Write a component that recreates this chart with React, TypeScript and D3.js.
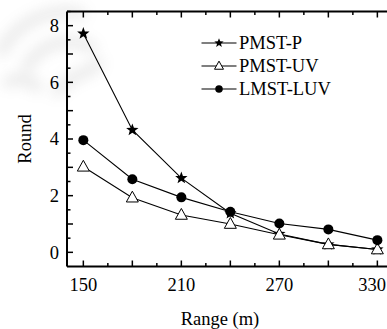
import React from "react";
import * as d3 from "d3";

const ranges = [150, 180, 210, 240, 270, 300, 330];
const pmstP = [7.72, 4.32, 2.62, 1.38, 0.65, 0.28, 0.1];
const pmstUV = [3.02, 1.93, 1.32, 1.0, 0.62, 0.28, 0.1];
const lmstLUV = [3.96, 2.58, 1.94, 1.43, 1.02, 0.81, 0.43];
const seriesNames = ["PMST-P", "PMST-UV", "LMST-LUV"];
const xTickLabels = [150, 210, 270, 330];
const yTickLabels = [0, 2, 4, 6, 8];

const W = 387, H = 329;
const FONT = "'Liberation Serif', 'Times New Roman', serif";

function starPath(cx: number, cy: number, R: number) {
  const r = R * 0.42;
  const pts: [number, number][] = [];
  for (let i = 0; i < 10; i++) {
    const a = -Math.PI / 2 + (i * Math.PI) / 5;
    const rr = i % 2 === 0 ? R : r;
    pts.push([cx + rr * Math.cos(a), cy + rr * Math.sin(a)]);
  }
  return d3.line()(pts) + "Z";
}
function triPath(cx: number, cy: number, s: number) {
  const h = s * 0.9;
  return `M${cx},${cy - h * 0.6}L${cx + s / 2},${cy + h * 0.4}L${cx - s / 2},${cy + h * 0.4}Z`;
}

function Marker({ kind, x, y, scale = 1 }: { kind: number; x: number; y: number; scale?: number }) {
  if (kind === 0) return <path d={starPath(x, y, 6.5 * scale)} fill="#000" />;
  if (kind === 1) return <path d={triPath(x, y, 12 * scale)} fill="#fff" stroke="#000" strokeWidth={1} />;
  return <circle cx={x} cy={y} r={5 * scale} fill="#000" />;
}

export default function App() {
  const x = d3.scaleLinear().domain([140, 340]).range([67, 393.7]);
  const y = d3.scaleLinear().domain([-0.5, 8.5]).range([266.5, 11.5]);
  const series = [pmstP, pmstUV, lmstLUV];
  const line = d3.line<number>().x((_, i) => x(ranges[i])).y((d) => y(d));
  const xMinor = d3.range(150, 340, 15);
  const yMinor = d3.range(0, 8.51, 0.5);
  const left = x.range()[0], right = x.range()[1];
  const top = y.range()[1], bottom = y.range()[0];

  return (
    <svg width={W} height={H} style={{ position: "absolute", left: 0, top: 0, background: "#fff", fontFamily: FONT }}>
      <defs>
        <filter id="blur" x="-50%" y="-50%" width="200%" height="200%">
          <feGaussianBlur stdDeviation="7" />
        </filter>
      </defs>
      <g filter="url(#blur)" opacity={0.22} fill="none" stroke="#888" strokeWidth={9}>
        <path d="M0,55 C15,20 55,5 85,15" />
        <path d="M25,70 C40,40 75,35 95,50" />
        <path d="M55,95 C70,70 95,75 100,60" />
        <path d="M5,85 C15,75 30,78 40,90" />
      </g>
      {/* lines */}
      {series.map((s, k) => (
        <path key={k} d={line(s) || ""} fill="none" stroke="#000" strokeWidth={1.1} />
      ))}
      {/* markers */}
      {series.map((s, k) =>
        s.map((v, i) => <Marker key={`${k}-${i}`} kind={k} x={x(ranges[i])} y={y(v)} />)
      )}
      {/* frame */}
      <line x1={left} x2={right} y1={bottom} y2={bottom} stroke="#000" strokeWidth={2} />
      <line x1={left} x2={right} y1={top} y2={top} stroke="#000" strokeWidth={2} />
      <line x1={left} x2={left} y1={top} y2={bottom} stroke="#000" strokeWidth={2} />
      {/* x ticks */}
      {xMinor.map((t) => {
        const major = (t - 150) % 30 === 0;
        const len = major ? 6 : 3.5;
        return (
          <g key={`xt${t}`}>
            <line x1={x(t)} x2={x(t)} y1={bottom} y2={bottom - len} stroke="#000" strokeWidth={1.5} />
            <line x1={x(t)} x2={x(t)} y1={top} y2={top + len} stroke="#000" strokeWidth={1.5} />
          </g>
        );
      })}
      {yMinor.map((t) => {
        const major = Math.abs(t - Math.round(t)) < 1e-6;
        const len = major ? 6 : 3.5;
        return <line key={`yt${t}`} x1={left} x2={left + len} y1={y(t)} y2={y(t)} stroke="#000" strokeWidth={1.5} />;
      })}
      {xTickLabels.map((t) => (
        <text key={`xl${t}`} x={Math.min(x(t), 372)} y={290.5} textAnchor="middle" fontSize={18.5}>
          {t}
        </text>
      ))}
      {yTickLabels.map((t) => (
        <text key={`yl${t}`} x={59} y={y(t)} dy="0.34em" textAnchor="end" fontSize={18.5}>
          {t}
        </text>
      ))}
      <text x={220} y={325} textAnchor="middle" fontSize={18.5}>
        Range (m)
      </text>
      <text transform={`translate(31,${(top + bottom) / 2}) rotate(-90)`} textAnchor="middle" fontSize={18.5}>
        Round
      </text>
      {/* legend */}
      {seriesNames.map((n, k) => {
        const ly = 43 + k * 23;
        return (
          <g key={n}>
            <line x1={201.5} x2={236.5} y1={ly} y2={ly} stroke="#000" strokeWidth={1.1} />
            <Marker kind={k} x={219} y={ly} scale={0.75} />
            <text x={239} y={ly} dy="0.34em" fontSize={18.5}>
              {n}
            </text>
          </g>
        );
      })}
    </svg>
  );
}
